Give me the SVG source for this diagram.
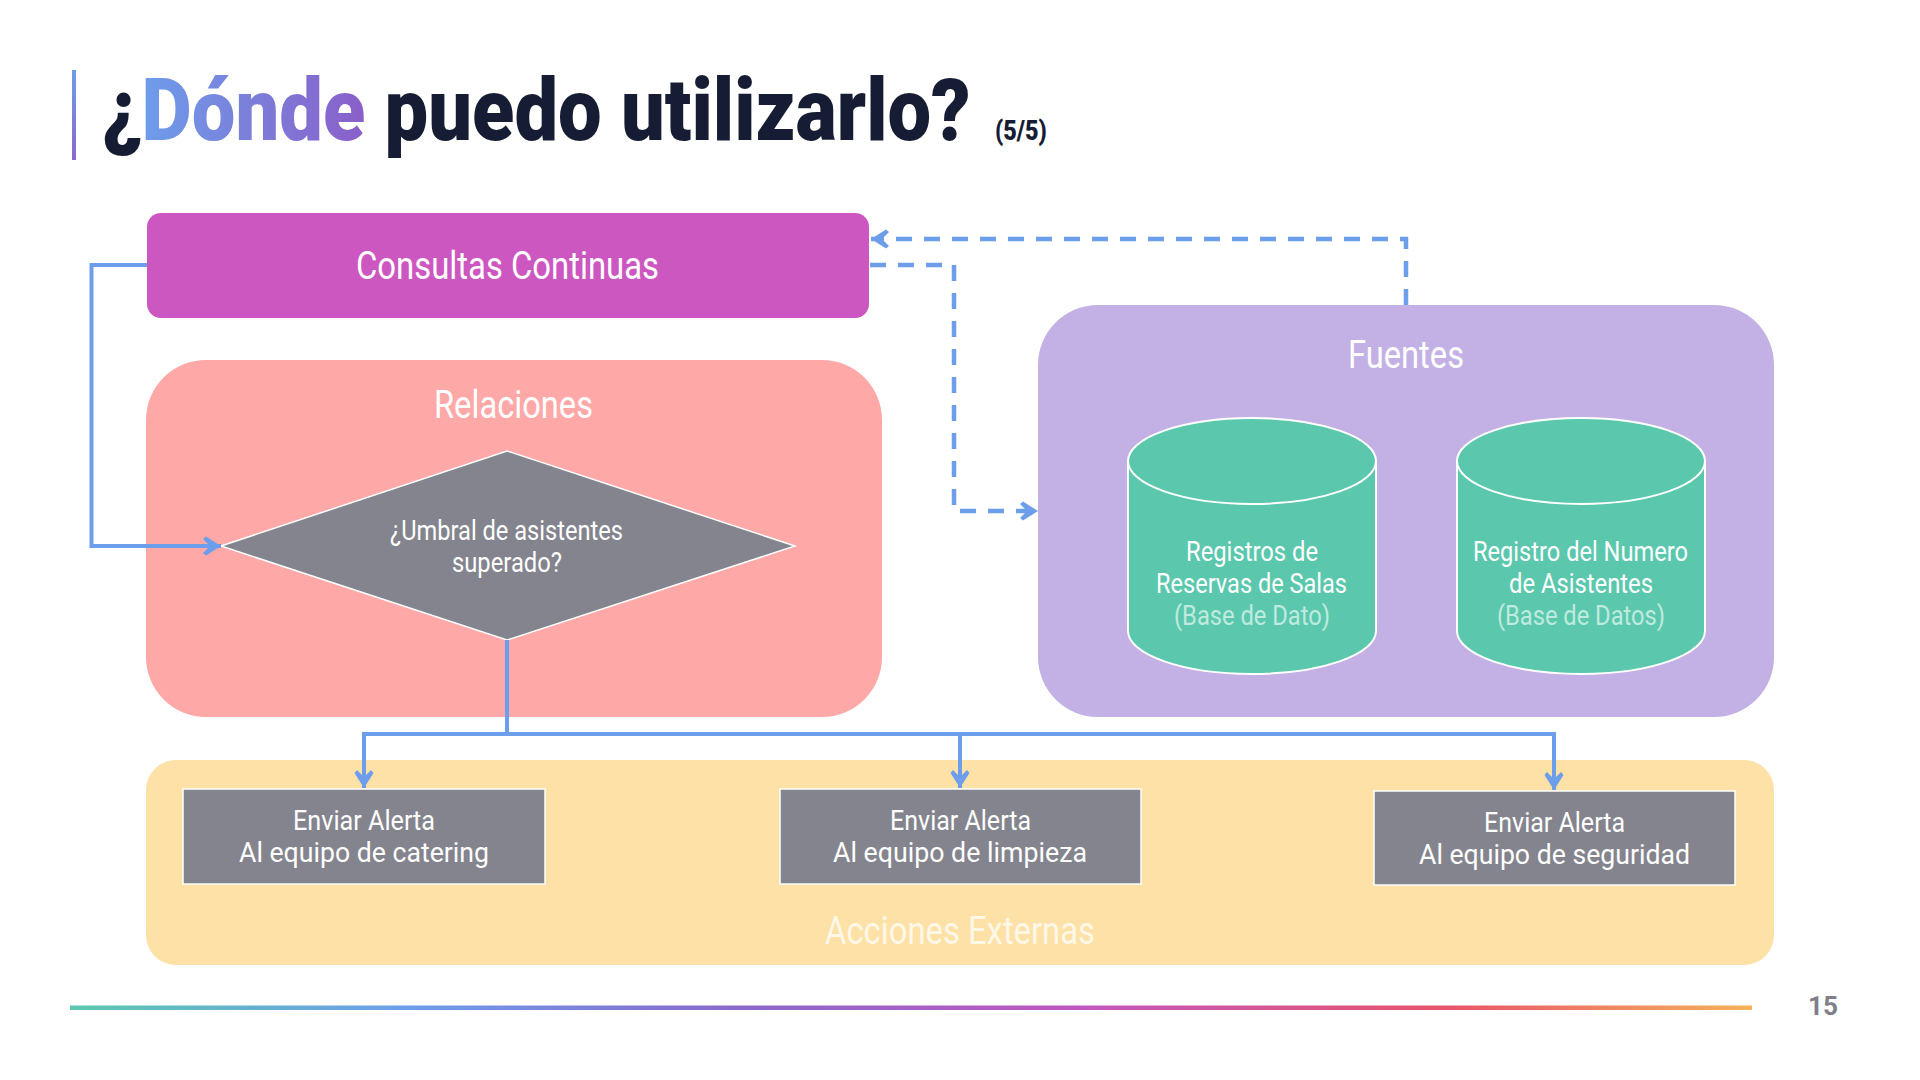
<svg xmlns="http://www.w3.org/2000/svg" width="1920" height="1080" viewBox="0 0 1920 1080">
<style>
text{font-family:Roboto,"Liberation Sans",sans-serif;fill:#fff}
.s36{font-size:38px}
.s27{font-size:27px}
.t{font-size:88px;font-weight:900;fill:#161c33}
.box{fill:#84848e;stroke:#fff;stroke-width:1.5}
.cyl{fill:#5bc8ae;stroke:#fff;stroke-width:2}
.c{fill:none;stroke:#6d9eeb;stroke-width:4}
.d{stroke-dasharray:16 12;stroke-width:4.500}
.soft{fill:#bfeade}
</style>
<defs>
<linearGradient id="gt" gradientUnits="userSpaceOnUse" x1="44" y1="0" x2="308" y2="0"><stop offset="0" stop-color="#6d9eeb"/><stop offset="1" stop-color="#8a5fc9"/></linearGradient>
<linearGradient id="gb" x1="0" y1="0" x2="0" y2="1"><stop offset="0" stop-color="#6d9eeb"/><stop offset="1" stop-color="#8a68c9"/></linearGradient>
<linearGradient id="gl" gradientUnits="userSpaceOnUse" x1="70" y1="0" x2="1752" y2="0"><stop offset="0" stop-color="#5bc8ae"/><stop offset=".2" stop-color="#6d9eeb"/><stop offset=".4" stop-color="#8a68c9"/><stop offset=".6" stop-color="#c057c0"/><stop offset=".82" stop-color="#e8556a"/><stop offset="1" stop-color="#f5b25a"/></linearGradient>
<marker id="a" markerUnits="userSpaceOnUse" markerWidth="28" markerHeight="28" refX="24" refY="14" orient="auto"><path d="M6,7 L9,4.500 L24,14 L9,23.500 L6,21 L13,14 Z" fill="#6d9eeb"/></marker>
</defs>
<rect width="1920" height="1080" fill="#fff"/>
<g id="title">
<rect x="72" y="70" width="4" height="90" fill="url(#gb)"/>
<text class="t" transform="translate(102,140) scale(.85,1)" x="0" y="0" textLength="1022" lengthAdjust="spacingAndGlyphs">¿<tspan style="fill:url(#gt)">Dónde</tspan> puedo utilizarlo?</text>
<text transform="translate(995,140) scale(.85,1)" x="0" y="0" font-size="27" font-weight="900" textLength="61" lengthAdjust="spacingAndGlyphs" style="fill:#161c33">(5/5)</text>
</g>
<g id="relaciones">
<rect x="146" y="360" width="736" height="357" rx="60" fill="#ffa8a8"/>
<text class="s36" x="434" y="418" textLength="159" lengthAdjust="spacingAndGlyphs">Relaciones</text>
</g>
<g id="fuentes">
<rect x="1038" y="305" width="736" height="412" rx="60" fill="#c3b1e6"/>
<text class="s36" x="1348" y="368" textLength="116" lengthAdjust="spacingAndGlyphs">Fuentes</text>
</g>
<g id="acciones">
<rect x="146" y="760" width="1628" height="205" rx="30" fill="#fde1a6"/>
<text class="s36" x="825" y="944" textLength="270" lengthAdjust="spacingAndGlyphs" style="fill:#fff8e8">Acciones Externas</text>
</g>
<g id="consultas">
<rect x="147" y="213" width="722" height="105" rx="14" fill="#cd57c0"/>
<text class="s36" x="356" y="279" textLength="303" lengthAdjust="spacingAndGlyphs">Consultas Continuas</text>
</g>
<g id="umbral">
<polygon class="box" points="221,546 507,451 795,546 507,640"/>
<text class="s27" x="390" y="540" textLength="233" lengthAdjust="spacingAndGlyphs">¿Umbral de asistentes</text>
<text class="s27" x="452" y="572" textLength="110" lengthAdjust="spacingAndGlyphs">superado?</text>
</g>
<g id="registros">
<path class="cyl" d="M1128,461 V631 A124,43 0 0 0 1376,631 V461 A124,43 0 0 0 1128,461 A124,43 0 0 0 1376,461"/>
<text class="s27" x="1186" y="561" textLength="132" lengthAdjust="spacingAndGlyphs">Registros de</text>
<text class="s27" x="1156" y="593" textLength="191" lengthAdjust="spacingAndGlyphs">Reservas de Salas</text>
<text class="s27 soft" x="1174" y="625" textLength="156" lengthAdjust="spacingAndGlyphs">(Base de Dato)</text>
</g>
<g id="asistentes">
<path class="cyl" d="M1457,461 V631 A124,43 0 0 0 1705,631 V461 A124,43 0 0 0 1457,461 A124,43 0 0 0 1705,461"/>
<text class="s27" x="1473" y="561" textLength="215" lengthAdjust="spacingAndGlyphs">Registro del Numero</text>
<text class="s27" x="1509" y="593" textLength="144" lengthAdjust="spacingAndGlyphs">de Asistentes</text>
<text class="s27 soft" x="1497" y="625" textLength="168" lengthAdjust="spacingAndGlyphs">(Base de Datos)</text>
</g>
<g id="catering">
<rect class="box" x="183" y="789" width="362" height="95"/>
<text class="s27" x="293" y="830" textLength="142" lengthAdjust="spacingAndGlyphs">Enviar Alerta</text>
<text class="s27" x="239" y="862" textLength="250" lengthAdjust="spacingAndGlyphs">Al equipo de catering</text>
</g>
<g id="limpieza">
<rect class="box" x="780" y="789" width="361" height="95"/>
<text class="s27" x="890" y="830" textLength="141" lengthAdjust="spacingAndGlyphs">Enviar Alerta</text>
<text class="s27" x="833" y="862" textLength="254" lengthAdjust="spacingAndGlyphs">Al equipo de limpieza</text>
</g>
<g id="seguridad">
<rect class="box" x="1374" y="791" width="361" height="94"/>
<text class="s27" x="1484" y="832" textLength="141" lengthAdjust="spacingAndGlyphs">Enviar Alerta</text>
<text class="s27" x="1419" y="864" textLength="271" lengthAdjust="spacingAndGlyphs">Al equipo de seguridad</text>
</g>
<g id="connectors">
<path class="c" d="M147,265 H91.500 V546 H221" marker-end="url(#a)"/>
<path class="c" d="M507,640 V734 H364 V788" marker-end="url(#a)"/>
<path class="c" d="M507,734 H960 V788" marker-end="url(#a)"/>
<path class="c" d="M960,734 H1554 V790" marker-end="url(#a)"/>
<path class="c d" d="M1406,305 V239 H871" marker-end="url(#a)"/>
<path class="c d" d="M870,265 H954 V511 H1038" marker-end="url(#a)"/>
</g>
<g id="footer">
<rect x="70" y="1005.500" width="1682" height="4.500" fill="url(#gl)"/>
<text x="1808" y="1015" font-size="26" font-weight="700" textLength="30" lengthAdjust="spacingAndGlyphs" style="fill:#7f7f8a">15</text>
</g>
</svg>
